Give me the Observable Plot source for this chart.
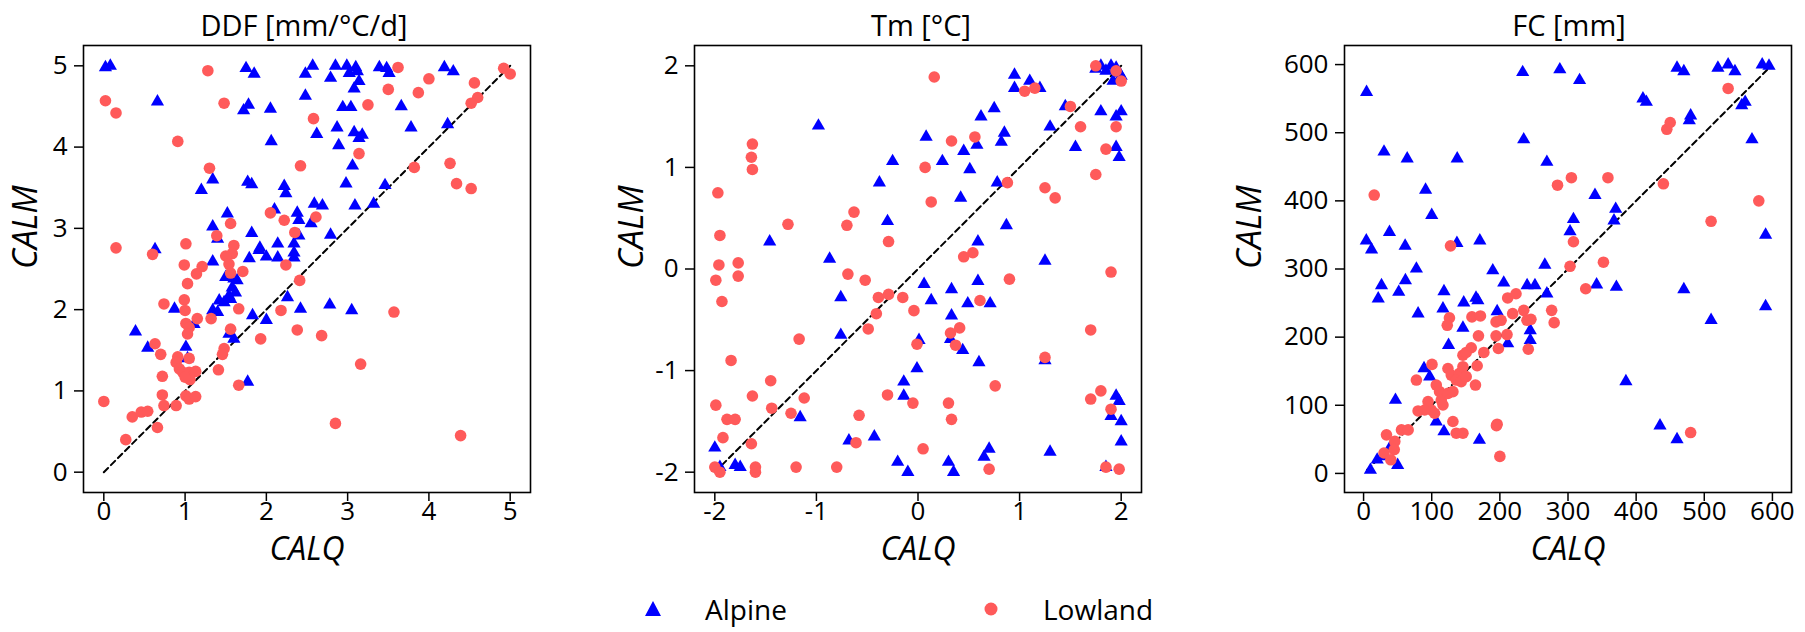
<!DOCTYPE html>
<html><head><meta charset="utf-8">
<script src="https://cdn.jsdelivr.net/npm/d3@7"></script>
<script src="https://cdn.jsdelivr.net/npm/@observablehq/plot@0.6"></script>
<style>
body{margin:0;background:#fff;width:1805px;height:632px;position:relative;overflow:hidden;font-family:"Open Sans","DejaVu Sans",sans-serif;color:#000}
.panel{position:absolute;top:0;z-index:1}
.title{position:absolute;top:5px;font-size:29px;line-height:normal;text-align:center;white-space:nowrap;transform:translateX(-50%);z-index:2}
.legend{position:absolute;top:590px;font-size:28px;display:flex;align-items:center;z-index:2}
.legend svg{margin-right:42px}
</style></head><body>
<div id="t1" class="title" style="left:304px"></div>
<div id="t2" class="title" style="left:921px"></div>
<div id="t3" class="title" style="left:1569px"></div>
<div id="p1" class="panel" style="left:0px"></div>
<div id="p2" class="panel" style="left:594px"></div>
<div id="p3" class="panel" style="left:1204px"></div>
<div class="legend" style="left:643px"><svg width="20" height="20"><path d="M10,2 L18,17 L2,17 Z" fill="#0000ff"/></svg><span id="l1"></span></div>
<div class="legend" style="left:981px"><svg width="20" height="20"><circle cx="10" cy="10" r="6.5" fill="#ff5a5a"/></svg><span id="l2"></span></div>
<script>
// ---------- DATA ----------
const panelTitles = ["DDF [mm/°C/d]", "Tm [°C]", "FC [mm]"];
const seriesNames = ["Alpine", "Lowland"];
const xLabel = "CALQ", yLabel = "CALM";

const ddfTicks = [0, 1, 2, 3, 4, 5];
const tmTicks = [-2, -1, 0, 1, 2];
const fcTicks = [0, 100, 200, 300, 400, 500, 600];

const ddfOneToOne = [[0, 0], [5, 5]];
const tmOneToOne = [[-2, -2], [2, 2]];
const fcOneToOne = [[5, 5], [598, 598]];

// [CALQ, CALM]
const ddfAlpine = [[0.02,4.98],[0.08,5.0],[0.66,4.56],[1.75,4.97],[1.85,4.9],[1.72,4.45],[1.78,4.52],[2.05,4.47],[2.06,4.07],[1.34,3.6],[1.2,3.47],[1.77,3.57],[1.82,3.54],[2.22,3.52],[2.24,3.43],[2.1,3.23],[2.38,3.19],[1.52,3.18],[1.34,3.02],[1.82,2.94],[2.14,2.81],[1.92,2.76],[1.4,2.87],[0.63,2.74],
[2.57,5.0],[2.48,4.9],[2.85,5.0],[2.79,4.85],[2.99,5.0],[3.02,4.91],[3.1,4.98],[3.12,4.93],[3.14,4.81],[3.08,4.72],[3.39,4.98],[3.48,4.97],[3.51,4.91],[2.48,4.63],[4.19,4.98],[4.3,4.93],[2.94,4.49],[3.04,4.49],[3.66,4.5],[2.87,4.24],[2.62,4.16],[3.78,4.24],[3.08,4.18],[3.14,4.11],[3.18,4.15],[2.89,4.02],[4.23,4.28],[3.06,3.77],[2.98,3.55],[3.46,3.53],[2.59,3.3],[2.69,3.28],[3.32,3.3],[3.09,3.28],[2.4,3.1],[2.55,3.06],[2.79,2.92],[2.34,2.81],
[1.34,2.59],[1.91,2.73],[2.0,2.65],[2.14,2.64],[2.34,2.7],[2.34,2.64],[1.79,2.63],[1.5,2.4],[1.6,2.38],[1.64,2.36],[1.58,2.27],[1.62,2.21],[1.54,2.17],[1.42,2.11],[1.48,2.09],[1.56,2.13],[1.34,1.99],[1.4,1.97],[0.87,2.01],[0.39,1.73],[0.54,1.53],[1.01,1.54],[1.03,1.4],[1.11,1.82],[1.54,1.7],[1.6,1.64],[1.83,1.93],[2.0,1.87],[2.26,2.15],[2.42,2.01],[1.77,1.11],
[2.4,2.91],[2.78,2.06],[3.05,1.99]];
const ddfLowland = [[1.28,4.94],[0.02,4.57],[0.15,4.42],[1.48,4.54],[0.91,4.07],[1.3,3.74],[2.42,3.77],[2.05,3.19],[2.22,3.1],[1.56,3.06],[2.35,2.95],[1.39,2.91],[1.6,2.79],[1.01,2.81],[0.15,2.76],
[3.62,4.98],[4.92,4.97],[5.0,4.9],[4.0,4.84],[3.5,4.71],[3.87,4.67],[4.56,4.79],[3.25,4.52],[4.6,4.61],[4.52,4.54],[2.58,4.35],[3.14,3.92],[3.82,3.75],[4.26,3.8],[4.34,3.55],[4.52,3.49],[2.61,3.14],
[0.6,2.68],[0.99,2.55],[1.21,2.53],[1.14,2.44],[1.03,2.32],[0.74,2.07],[0.99,2.12],[1.0,1.99],[1.01,1.83],[1.05,1.78],[1.03,1.7],[1.15,1.89],[1.32,1.89],[1.58,2.69],[1.5,2.66],[1.54,2.56],[1.56,2.45],[1.71,2.47],[2.24,2.55],[1.66,2.01],[2.18,1.99],[2.38,1.75],[1.56,1.76],[1.93,1.64],[1.48,1.52],[1.46,1.45],[0.63,1.58],[0.7,1.45],[0.91,1.42],[0.89,1.35],[1.05,1.4],[0.93,1.27],[0.97,1.23],[1.05,1.23],[1.13,1.24],[1.06,1.14],[1.0,1.17],[1.41,1.26],[0.72,1.18],[1.66,1.07],[0.72,0.95],[0.74,0.82],[1.01,0.94],[1.05,0.9],[1.13,0.93],[0.89,0.82],[0.0,0.87],[0.35,0.68],[0.46,0.74],[0.54,0.75],[0.66,0.55],[0.27,0.4],
[2.41,2.36],[3.57,1.97],[2.68,1.68],[3.16,1.33],[2.85,0.6],[4.39,0.45]];

const tmAlpine = [[-1.46,0.27],[-0.98,1.41],[-0.25,1.06],[-0.38,0.85],[-0.3,0.47],[0.08,1.3],[0.24,1.06],[0.45,1.16],[0.51,0.98],[0.42,0.7],[0.58,1.22],[0.62,1.5],[0.75,1.58],[0.85,1.34],[0.82,1.25],[0.78,0.85],[0.87,0.43],[0.59,0.27],[0.95,1.91],[0.95,1.78],
[-1.16,-1.46],[-2.0,-1.76],
[-0.87,0.1],[-0.76,-0.28],[-0.76,-0.65],[0.06,-0.15],[0.13,-0.31],[0.33,-0.2],[0.59,-0.12],[0.49,-0.34],[0.71,-0.34],[0.33,-0.46],[0.01,-0.7],[0.32,-0.69],[0.44,-0.8],[0.6,-0.92],[-0.01,-0.98],[-0.14,-1.11],[-0.14,-1.25],[-0.43,-1.65],[-0.68,-1.69],[0.7,-1.77],
[1.75,1.97],[1.8,2.0],[1.85,1.95],[1.9,2.0],[1.95,1.98],[1.98,1.93],[2.0,1.9],[1.92,1.85],[1.2,1.78],[1.1,1.85],[1.3,1.4],[1.45,1.6],[1.55,1.2],[1.8,1.55],[1.95,1.5],[2.0,1.55],[1.95,1.2],[1.98,1.1],[1.25,0.08],[1.95,-1.25],[1.98,-1.3],[1.9,-1.45],[2.0,-1.5],[2.0,-1.7],[1.85,-1.95],[1.3,-1.8],[1.25,-0.9],
[-1.95,-1.95],[-1.8,-1.93],[-1.75,-1.95],[-0.1,-2.0],[0.35,-2.0],[0.65,-1.85],[0.3,-1.9],[-0.2,-1.9]];
const tmLowland = [[-1.63,1.23],[-1.64,1.1],[-1.63,0.98],[-1.97,0.75],[-1.95,0.33],[-1.28,0.44],
[0.16,1.89],[0.33,1.26],[0.56,1.3],[0.07,1.0],[0.13,0.66],[0.88,0.85],[-0.63,0.56],[-0.7,0.43],[-0.29,0.27],[0.54,0.16],[0.45,0.12],
[-1.96,0.04],[-1.99,-0.11],[-1.77,0.06],[-1.77,-0.07],[-1.93,-0.32],[-1.17,-0.69],[-1.84,-0.9],[-1.99,-1.34],[-1.88,-1.48],[-1.8,-1.48],[-1.92,-1.66],[-1.63,-1.25],[-1.45,-1.1],[-1.44,-1.37],[-1.25,-1.42],[-1.12,-1.27],[-1.64,-1.72],
[-0.69,-0.05],[-0.52,-0.11],[-0.39,-0.28],[-0.29,-0.25],[-0.15,-0.28],[-0.04,-0.41],[-0.41,-0.44],[-0.49,-0.59],[0.9,-0.1],[0.61,-0.31],[0.32,-0.63],[0.41,-0.58],[-0.01,-0.74],[0.37,-0.75],[0.76,-1.15],[-0.3,-1.24],[-0.05,-1.32],[0.3,-1.32],[0.33,-1.48],[-0.58,-1.44],[-0.61,-1.71],[0.05,-1.77],
[1.05,1.75],[1.15,1.78],[1.75,2.0],[1.95,1.95],[2.0,1.85],[1.5,1.6],[1.6,1.4],[1.95,1.4],[1.25,0.8],[1.35,0.7],[1.75,0.93],[1.85,1.18],[1.9,-0.03],[1.25,-0.87],[1.7,-0.6],[1.8,-1.2],[1.9,-1.38],[1.7,-1.28],[1.85,-1.95],[1.98,-1.97],
[-2.0,-1.95],[-1.95,-2.0],[-1.6,-2.0],[-1.6,-1.95],[-0.8,-1.95],[-1.2,-1.95],[0.7,-1.97]];

const fcAlpine = [[4.4,559.5],[30,472],[4,341.7],[38,354],
[233.5,588.7],[288,592.7],[317,577],[235,490],[269,457],[64,462],[137.4,462],[91,416],[100,379],[61,334],[137,338],[170.6,341.7],[339.6,408.5],[308,373],[303,355],[370,388],[367.5,371],
[11.7,328.5],[26.3,276],[21.5,256.4],
[266,306],[189.6,297.8],[205.7,279.8],[77.5,300.3],[61.4,283.2],[51.6,266.2],[118,267],[147,250.6],[165,257.5],[167.7,254],[116.5,241.8],[80,234.5],[196,237.9],[240,276],[251.5,276],[269,263.7],[145.8,213.6],[124.7,188.2],[244.6,210],[244.6,195.5],[211.5,190.6],[371,273.5],[342,277],[88.7,154],[97,142],[46.8,107.7],[106.7,76],[118,61.5],[170,49],[385,135],
[410,550],[415,545],[460,595],[470,590],[480,525],[478,518],[520,595],[535,600],[545,590],[555,540],[560,545],[570,490],[585,600],[595,598],[590,350],[590,245],[510,225],[470,270],[435,70],[460,50],
[10,5],[20,20],[30,25],[50,12],[40,40]];
const fcLowland = [[15.6,408.5],[284.6,423],[305,434],[358.6,434],[308,340],[127.6,334],[303,304],[352,310],[326,271],[211.5,257.5],[223.7,263.7],[218.8,234.5],[235,239.3],[239.8,224.7],[245.6,226.2],[276,239.3],[279.7,221.3],[159,229.7],[171.5,231.1],[126,228.2],[122.8,217.4],[194.4,222.4],[201.8,224.7],[194.4,201.9],[210.5,203.8],[197.8,183.3],[241.7,182.3],[168.6,201.9],[158,184.4],[145.8,173.5],[150.6,177.5],[176.5,177.5],[166.7,158],[100.4,160],[77.5,137],[123.8,154],[128.7,144.3],[140.8,146.8],[145.8,156.6],[136,137],[143.3,134.6],[150.6,142],[164.2,129.7],[106.7,129.7],[111.5,120],[114,107.7],[123.8,117.5],[131.1,120],[94.6,105.4],[99.4,93.1],[104.2,88.3],[116.5,100.4],[80,91.7],[89.6,93.1],[131.1,76.2],[136,59],[145.8,59],[196,72.2],[55.6,63.9],[65.4,63.9],[33.6,56.6],[45.8,47],
[440,425],[445,505],[450,515],[510,370],[535,565],[580,400],[480,60],[30,30],[40,20],[45,35],[200,25],[195,70]];

// ---------- DRAW ----------
["t1", "t2", "t3"].forEach((id, i) => document.getElementById(id).textContent = panelTitles[i]);
document.getElementById("l1").textContent = seriesNames[0];
document.getElementById("l2").textContent = seriesNames[1];

const ALPINE = "#0000ff", LOWLAND = "#ff5a5a";
function panel(el, {alpine, lowland, ticks, domain, oneToOne, marginLeft, labelDx}) {
  const inner = 447, marginRight = 13, marginTop = 45, marginBottom = 85;
  const fmt = d => String(d);
  const chart = Plot.plot({
    width: marginLeft + inner + marginRight,
    height: marginTop + inner + marginBottom,
    marginLeft, marginRight, marginTop, marginBottom,
    style: {fontFamily: '"Open Sans", sans-serif', fontSize: "26px", color: "#000", background: "transparent", overflow: "visible"},
    x: {domain, ticks, label: null},
    y: {domain, ticks, label: null},
    marks: [
      Plot.axisX({ticks, tickSize: 9, tickPadding: 0, tickFormat: fmt, label: null, strokeWidth: 1.5}),
      Plot.axisY({ticks, tickSize: 9, tickPadding: 7, tickFormat: fmt, label: null, strokeWidth: 1.5}),
      Plot.line(oneToOne, {x: d => d[0], y: d => d[1], stroke: "#000", strokeWidth: 2, strokeDasharray: "6,4"}),
      Plot.dot(alpine, {x: d => d[0], y: d => d[1], symbol: "triangle", r: 4.9, fill: ALPINE}),
      Plot.dot(lowland, {x: d => d[0], y: d => d[1], symbol: "circle", r: 5.8, fill: LOWLAND}),
      Plot.frame({stroke: "#000", strokeWidth: 1.6}),
      Plot.text([xLabel], {frameAnchor: "bottom", dy: 67, fontSize: 32, fontStyle: "italic", text: d => d, fill: "#000"}),
      Plot.text([yLabel], {frameAnchor: "left", dx: labelDx, rotate: -90, fontSize: 34, fontStyle: "italic", text: d => d, fill: "#000"})
    ]
  });
  document.getElementById(el).appendChild(chart);
}
panel("p1", {alpine: ddfAlpine, lowland: ddfLowland, ticks: ddfTicks, domain: [-0.25, 5.25], oneToOne: ddfOneToOne, marginLeft: 83, labelDx: -57});
panel("p2", {alpine: tmAlpine, lowland: tmLowland, ticks: tmTicks, domain: [-2.2, 2.2], oneToOne: tmOneToOne, marginLeft: 100, labelDx: -62});
panel("p3", {alpine: fcAlpine, lowland: fcLowland, ticks: fcTicks, domain: [-28, 628], oneToOne: fcOneToOne, marginLeft: 140, labelDx: -94});
</script>
</body></html>
